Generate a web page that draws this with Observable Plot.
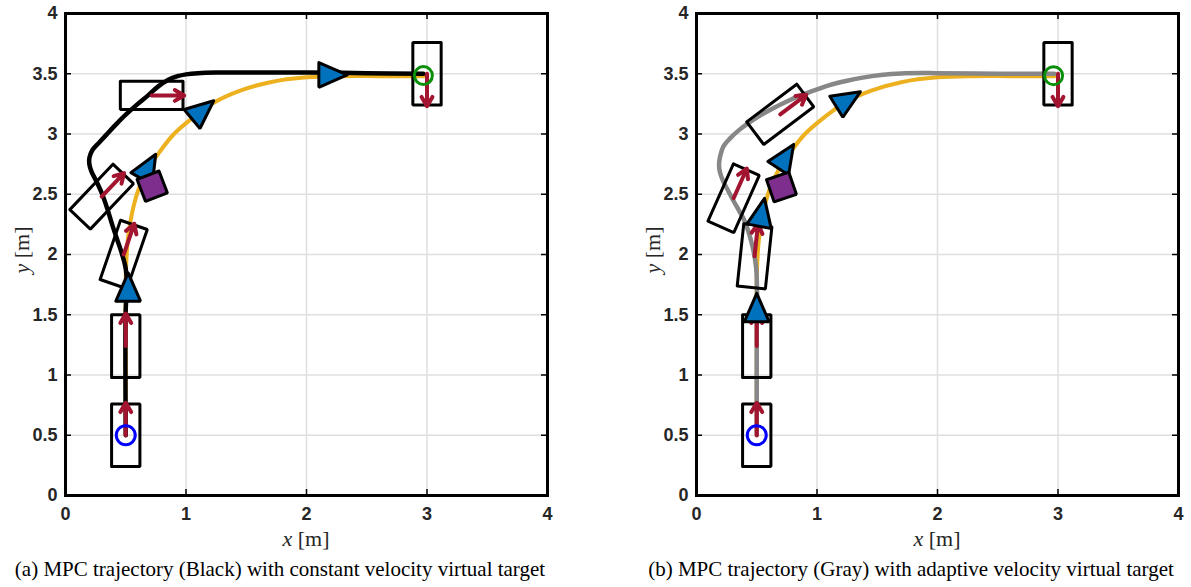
<!DOCTYPE html>
<html>
<head>
<meta charset="utf-8">
<script src="https://cdn.jsdelivr.net/npm/d3@7"></script>
<script src="https://cdn.jsdelivr.net/npm/@observablehq/plot@0.6"></script>
<style>
  body { margin:0; background:#fff; width:1191px; height:587px; position:relative; overflow:hidden; }
  .panel { position:absolute; top:0; }
  .panel svg text { font-weight:700 !important; font-size:18px !important; font-family:"Liberation Sans", Arial, sans-serif; fill:#262626; }
  .lab { position:absolute; font-family:"Liberation Serif", serif; font-size:22px; color:#262626; white-space:nowrap; }
  .cap { position:absolute; font-family:"Liberation Serif", serif; font-size:21px; color:#000; white-space:nowrap; transform:translateX(-50%); }
</style>
</head>
<body>
<div id="pa" class="panel" style="left:0px"></div>
<div id="pb" class="panel" style="left:631px"></div>
<div class="lab" style="left:306px; top:526px; transform:translateX(-50%)"><i>x</i> [m]</div>
<div class="lab" style="left:937px; top:526px; transform:translateX(-50%)"><i>x</i> [m]</div>
<div class="lab" style="left:22px; top:250px; transform:translate(-50%,-50%) rotate(-90deg)"><i>y</i> [m]</div>
<div class="lab" style="left:653px; top:250px; transform:translate(-50%,-50%) rotate(-90deg)"><i>y</i> [m]</div>
<div class="cap" style="left:280px; top:557px">(a) MPC trajectory (Black) with constant velocity virtual target</div>
<div class="cap" style="left:911px; top:557px">(b) MPC trajectory (Gray) with adaptive velocity virtual target</div>
<script>
// ---- tick values ----
const xTicks = [0, 1, 2, 3, 4];
const yTicks = [0, 0.5, 1, 1.5, 2, 2.5, 3, 3.5, 4];

// ---- reference path (yellow), same in both panels ----
const refX = [0.5, 0.5, 0.5, 0.505, 0.515, 0.535, 0.565, 0.61, 0.68, 0.78, 0.9, 1.05, 1.23, 1.45, 1.7, 2.0, 2.3, 2.6, 2.97];
const refY = [0.5, 1.2, 1.8, 1.95, 2.1, 2.25, 2.4, 2.55, 2.7, 2.85, 3.0, 3.13, 3.26, 3.36, 3.43, 3.47, 3.48, 3.48, 3.48];

// ---- MPC trajectory (a), black ----
const blackX = [0.5, 0.5, 0.51, 0.5, 0.47, 0.43, 0.39, 0.35, 0.305, 0.26, 0.215, 0.198, 0.2, 0.225, 0.28, 0.34, 0.42, 0.5, 0.6, 0.69, 0.77, 0.85, 0.93, 1.0, 1.1, 1.25, 1.6, 2.0, 2.5, 2.97];
const blackY = [0.5, 1.55, 1.72, 1.88, 2.0, 2.12, 2.24, 2.37, 2.5, 2.6, 2.69, 2.75, 2.81, 2.87, 2.93, 2.995, 3.08, 3.16, 3.25, 3.325, 3.395, 3.448, 3.48, 3.495, 3.505, 3.51, 3.51, 3.51, 3.505, 3.5];

// ---- MPC trajectory (b), gray ----
const grayX = [0.5, 0.5, 0.502, 0.495, 0.475, 0.44, 0.4, 0.355, 0.31, 0.265, 0.222, 0.195, 0.187, 0.195, 0.225, 0.281, 0.35, 0.43, 0.53, 0.637, 0.75, 0.874, 1.0, 1.11, 1.24, 1.378, 1.53, 1.7, 2.0, 2.5, 2.97];
const grayY = [0.5, 1.4, 1.72, 1.89, 2.02, 2.16, 2.276, 2.36, 2.44, 2.525, 2.607, 2.68, 2.745, 2.81, 2.9, 2.966, 3.03, 3.09, 3.155, 3.214, 3.27, 3.324, 3.37, 3.407, 3.44, 3.468, 3.49, 3.503, 3.505, 3.5, 3.5];

// ---- vehicle poses (center x, y, heading deg) ----
const poseAX = [0.5, 0.5, 0.483, 0.30, 0.715, 3.0];
const poseAY = [0.5, 1.24, 2.0, 2.48, 3.32, 3.5];
const poseAH = [90, 90, 71, 46.5, 0, -90];
const poseBX = [0.5, 0.5, 0.482, 0.308, 0.695, 3.0];
const poseBY = [0.5, 1.24, 1.985, 2.467, 3.163, 3.5];
const poseBH = [90, 90, 84, 66, 37, -90];

// ---- virtual target markers (x, y, heading deg) ----
const targetAX = [0.52, 0.69, 1.14, 2.22];
const targetAY = [1.73, 2.73, 3.2, 3.49];
const targetAH = [90, 60, 40, 0];
const targetBX = [0.5, 0.542, 0.742, 1.26];
const targetBY = [1.56, 2.35, 2.815, 3.288];
const targetBH = [90, 79, 57, 32];

// ---- purple square marker ----
const squareAX = [0.72], squareAY = [2.567], squareAR = [21];
const squareBX = [0.705], squareBY = [2.56], squareBR = [19];

// ---- start / goal circles ----
const startX = [0.5], startY = [0.5];
const goalAX = [2.97], goalAY = [3.485];
const goalBX = [2.963], goalBY = [3.484];

// ---- geometry sizes (data units) ----
const carL = 0.52, carW = 0.235, arrowL = 0.27, triL = 0.235, triB = 0.205, sqS = 0.195;

const zipXY = (xs, ys) => xs.map((x, i) => ({x, y: ys[i]}));
function shape(cx, cy, deg, local, id) {
  const a = deg * Math.PI / 180, c = Math.cos(a), s = Math.sin(a);
  const pts = local.map(([u, v]) => ({x: cx + u * c - v * s, y: cy + u * s + v * c, id}));
  return pts.concat([pts[0], pts[1]].map(p => ({...p})));
}
const rectLocal = [[carL/2, carW/2], [-carL/2, carW/2], [-carL/2, -carW/2], [carL/2, -carW/2]];
const triLocal = [[triL/2, 0], [-triL/2, triB/2], [-triL/2, -triB/2]];
const sqLocal = [[sqS/2, sqS/2], [-sqS/2, sqS/2], [-sqS/2, -sqS/2], [sqS/2, -sqS/2]];

function panel(cfg) {
  const innerW = 482, innerH = 482;
  const ref = zipXY(refX, refY);
  const path = zipXY(cfg.pathX, cfg.pathY);
  const poses = cfg.poseX.map((x, i) => ({x, y: cfg.poseY[i], h: cfg.poseH[i]}));
  const rects = poses.flatMap((p, i) => shape(p.x, p.y, p.h, rectLocal, i));
  const tris = cfg.tX.flatMap((x, i) => shape(x, cfg.tY[i], cfg.tH[i], triLocal, i));
  const sqs = cfg.sX.flatMap((x, i) => shape(x, cfg.sY[i], cfg.sR[i], sqLocal, i));
  return Plot.plot({
    width: 557, height: 555,
    marginLeft: 65, marginRight: 10, marginTop: 13, marginBottom: 60,
    x: {domain: [0, 4]}, y: {domain: [0, 4]},
    style: {fontFamily: "'Liberation Sans', Arial, sans-serif", fontSize: "18px", fontWeight: "bold", background: "white", overflow: "visible", color: "#262626"},
    marks: [
      Plot.gridX(xTicks, {stroke: "#dfdfdf", strokeOpacity: 1, strokeWidth: 1.5}),
      Plot.gridY(yTicks, {stroke: "#dfdfdf", strokeOpacity: 1, strokeWidth: 1.5}),
      Plot.line(ref, {x: "x", y: "y", stroke: "#EDB120", strokeWidth: 4, curve: "catmull-rom"}),
      Plot.line(path, {x: "x", y: "y", stroke: cfg.pathColor, strokeWidth: 4.5, curve: "catmull-rom"}),
      Plot.line(rects, {x: "x", y: "y", z: "id", stroke: "black", strokeWidth: 3, strokeLinejoin: "miter"}),
      Plot.arrow(poses, {
        x1: "x", y1: "y",
        x2: d => d.x + arrowL * Math.cos(d.h * Math.PI / 180),
        y2: d => d.y + arrowL * Math.sin(d.h * Math.PI / 180),
        stroke: "#A2142F", strokeWidth: 4, headAngle: 60
      }),
      Plot.line(tris, {x: "x", y: "y", z: "id", fill: "#0072BD", stroke: "black", strokeWidth: 3, strokeLinejoin: "miter"}),
      Plot.line(sqs, {x: "x", y: "y", z: "id", fill: "#7E2F8E", stroke: "black", strokeWidth: 3, strokeLinejoin: "miter"}),
      Plot.dot(zipXY(startX, startY), {x: "x", y: "y", r: 9.5, stroke: "#0000FF", strokeWidth: 3, fill: "none"}),
      Plot.dot(zipXY(cfg.gX, cfg.gY), {x: "x", y: "y", r: 9, stroke: "#0A8F0A", strokeWidth: 3, fill: "none"}),
      Plot.tickX(xTicks, {x: d => d, insetTop: innerH - 6, stroke: "black", strokeWidth: 1.5}),
      Plot.tickX(xTicks, {x: d => d, insetBottom: innerH - 6, stroke: "black", strokeWidth: 1.5}),
      Plot.tickY(yTicks, {y: d => d, insetRight: innerW - 6, stroke: "black", strokeWidth: 1.5}),
      Plot.tickY(yTicks, {y: d => d, insetLeft: innerW - 6, stroke: "black", strokeWidth: 1.5}),
      Plot.frame({stroke: "black", strokeWidth: 3}),
      Plot.axisX(xTicks, {tickSize: 0, tickPadding: 12, label: null, tickFormat: d => String(d), fontSize: 18, fontWeight: "bold", fill: "#262626"}),
      Plot.axisY(yTicks, {tickSize: 0, tickPadding: 8, label: null, tickFormat: d => String(d), fontSize: 18, fontWeight: "bold", fill: "#262626"})
    ]
  });
}

document.getElementById("pa").append(panel({
  pathX: blackX, pathY: blackY, pathColor: "black",
  poseX: poseAX, poseY: poseAY, poseH: poseAH,
  tX: targetAX, tY: targetAY, tH: targetAH,
  sX: squareAX, sY: squareAY, sR: squareAR,
  gX: goalAX, gY: goalAY
}));
document.getElementById("pb").append(panel({
  pathX: grayX, pathY: grayY, pathColor: "#878787",
  poseX: poseBX, poseY: poseBY, poseH: poseBH,
  tX: targetBX, tY: targetBY, tH: targetBH,
  sX: squareBX, sY: squareBY, sR: squareBR,
  gX: goalBX, gY: goalBY
}));
</script>
</body>
</html>
